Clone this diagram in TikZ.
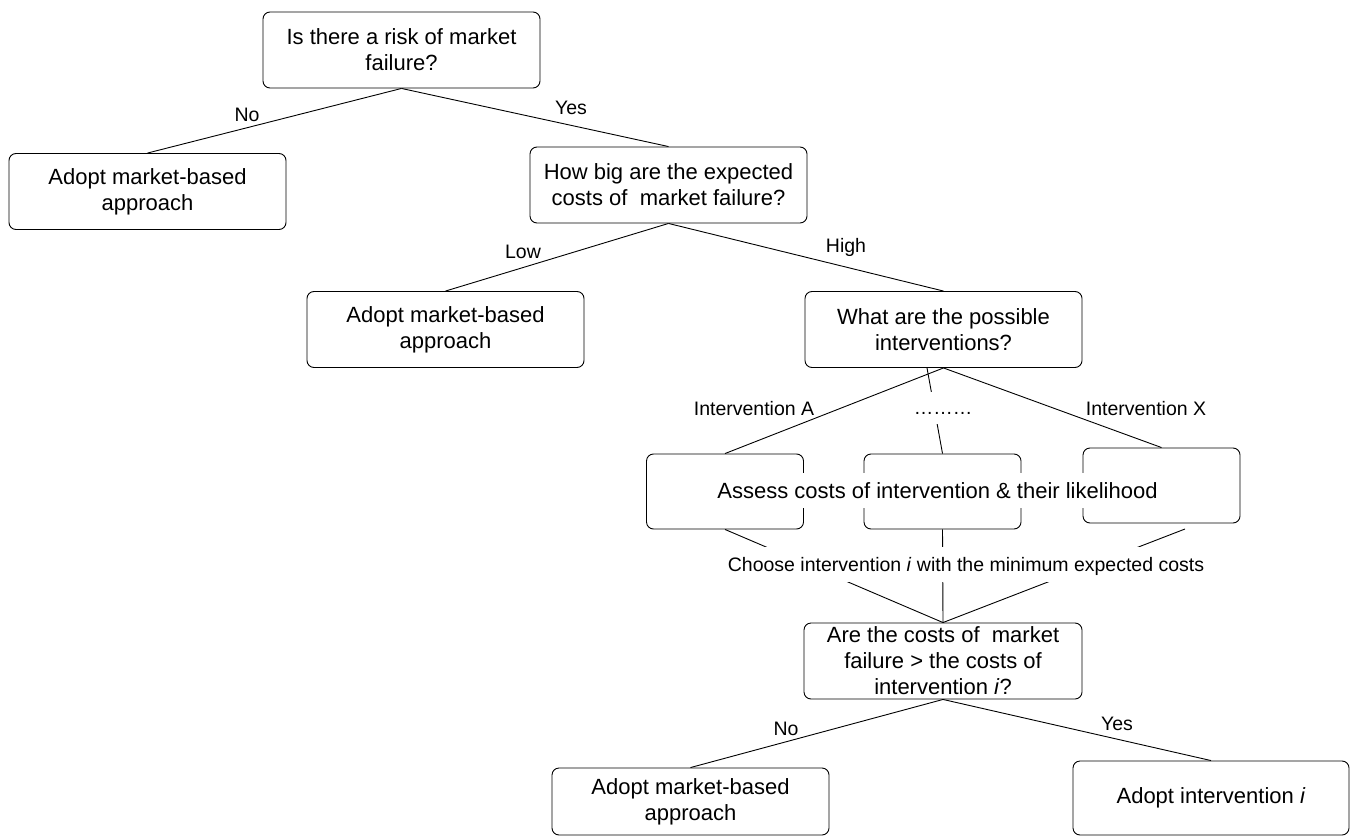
\documentclass[tikz,border=0pt]{standalone}
\usepackage{fontspec}
\setmainfont{Liberation Sans}
\begin{document}
\begin{tikzpicture}[x=1pt,y=-1pt,
  box/.style={draw, line width=0.9pt, rounded corners=7pt, align=center, inner sep=0pt,
    font=\fontsize{22}{26}\selectfont},
  bigbox/.style={box, minimum width=277pt, minimum height=76pt},
  smallbox/.style={box, minimum width=157pt, minimum height=75pt},
  conn/.style={line width=0.9pt},
  lab/.style={font=\fontsize{19.5}{23}\selectfont, inner sep=0pt, text height=14pt, text depth=4pt},
  gaplab/.style={fill=white, inner xsep=3pt, inner ysep=7pt, text height=18pt, text depth=3pt}]
\path[use as bounding box] (0,0) rectangle (1354,837);

% boxes
\node[bigbox] (q1) at (401.5,50) {Is there a risk of market\\failure?};
\node[bigbox] (a1) at (147.5,191.5) {Adopt market-based\\approach};
\node[bigbox] (q2) at (668.5,185) {How big are the expected\\costs of\ \ market failure?};
\node[bigbox] (a2) at (445.5,329.5) {Adopt market-based\\approach};
\node[bigbox] (q3) at (943.5,329.5) {What are the possible\\interventions?};
\node[smallbox] (bA) at (725,491.5) {};
\node[smallbox] (bM) at (942.5,491.5) {};
\node[smallbox] (bX) at (1161.5,485.5) {};
\node[gaplab, font=\fontsize{22}{26}\selectfont, inner xsep=4pt] (assess) at (937.5,490.5)
  {Assess costs of intervention \& their likelihood};
\node[bigbox, minimum width=278pt] (q4) at (943,661)
  {Are the costs of\ \ market\\failure > the costs of\\intervention \textit{i}?};
\node[bigbox, minimum height=67pt] (a3) at (690.5,801.5) {Adopt market-based\\approach};
\node[bigbox, minimum width=276pt, minimum height=74pt] (a4) at (1211,798) {Adopt intervention \textit{i}};

% free ends
\coordinate (mtop) at ([xshift=-16.5pt]q3.south);
\coordinate (xfoot) at (1185,529);

% connectors
\draw[conn] (q1.south) -- (a1.north);
\draw[conn] (q1.south) -- (q2.north);
\draw[conn] (q2.south) -- (a2.north);
\draw[conn] (q2.south) -- (q3.north);
\draw[conn] (q3.south) -- (bA.north);
\draw[conn] (q3.south) -- (bX.north);
\draw[conn] (mtop) -- (bM.north);
\draw[conn] (bA.south) -- (q4.north);
\draw[conn] (bM.south) -- (q4.north);
\draw[conn] (xfoot) -- (q4.north);
\draw[conn] (q4.south) -- (a3.north);
\draw[conn] (q4.south) -- (a4.north);

% labels
\node[lab] (lNo1) at (247,117) {No};
\node[lab] (lYes1) at (571,110) {Yes};
\node[lab] (lLow) at (523,253) {Low};
\node[lab] (lHigh) at (846,247) {High};
\node[lab] (lA) at (754,410) {Intervention A};
\node[lab] (lX) at (1146,410) {Intervention X};
\node[lab, fill=white, inner xsep=2pt, inner ysep=7pt, text height=15pt, text depth=3pt] (ldots) at (943,408) {………};
\node[lab, gaplab] (lchoose) at (966,564) {Choose intervention \textit{i} with the minimum expected costs};
\node[lab] (lNo2) at (786,730) {No};
\node[lab] (lYes2) at (1117,725) {Yes};
\end{tikzpicture}
\end{document}
